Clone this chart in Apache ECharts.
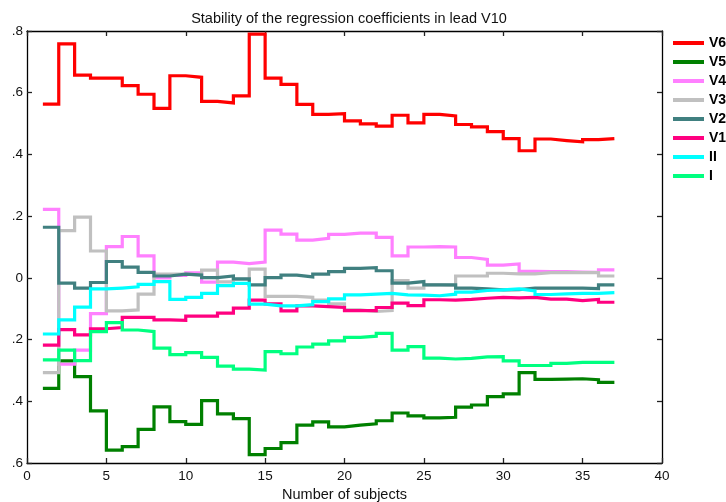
<!DOCTYPE html>
<html>
<head>
<meta charset="utf-8">
<script src="https://cdn.jsdelivr.net/npm/echarts@6/dist/echarts.min.js"></script>
<style>
  html, body { margin: 0; padding: 0; background: #fff; }
  #chart { width: 726px; height: 502px; }
</style>
</head>
<body>
<div id="chart"></div>
<script>
// Number of subjects at which each coefficient estimate starts (steps 1..36, last step closes at 37)
const subjects = [1,2,3,4,5,6,7,8,9,10,11,12,13,14,15,16,17,18,19,20,21,22,23,24,25,26,27,28,29,30,31,32,33,34,35,36];
const lastSubject = 37;

const seriesNames = ['V6', 'V5', 'V4', 'V3', 'V2', 'V1', 'II', 'I'];

const V6 = [0.563, 0.758, 0.657, 0.647, 0.647, 0.623, 0.595, 0.549, 0.655, 0.650, 0.572, 0.567, 0.590, 0.790, 0.647, 0.627, 0.562, 0.530, 0.532, 0.509, 0.499, 0.492, 0.527, 0.502, 0.530, 0.525, 0.497, 0.489, 0.474, 0.451, 0.412, 0.450, 0.445, 0.441, 0.448, 0.451];
const V5 = [-0.358, -0.269, -0.320, -0.431, -0.558, -0.547, -0.491, -0.418, -0.466, -0.475, -0.398, -0.441, -0.456, -0.573, -0.553, -0.534, -0.477, -0.467, -0.483, -0.477, -0.473, -0.463, -0.438, -0.447, -0.454, -0.452, -0.419, -0.412, -0.385, -0.376, -0.307, -0.329, -0.328, -0.327, -0.330, -0.339];
const V4 = [0.222, -0.280, -0.234, -0.116, 0.101, 0.134, 0.071, 0.000, 0.008, 0.016, -0.014, 0.051, 0.046, 0.051, 0.155, 0.142, 0.122, 0.128, 0.141, 0.145, 0.145, 0.131, 0.071, 0.100, 0.101, 0.100, 0.066, 0.060, 0.041, 0.045, 0.021, 0.020, 0.020, 0.019, 0.018, 0.026];
const V3 = [-0.307, 0.153, 0.197, 0.087, -0.107, -0.104, -0.053, 0.012, 0.012, 0.010, 0.025, -0.013, -0.005, 0.028, -0.060, -0.060, -0.063, -0.072, -0.084, -0.104, -0.109, -0.106, -0.009, -0.033, -0.023, -0.024, 0.006, 0.006, 0.015, 0.013, 0.013, 0.017, 0.017, 0.017, 0.017, 0.006];
const V2 = [0.164, -0.017, -0.033, -0.015, 0.053, 0.035, 0.018, 0.006, 0.012, 0.009, 0.001, 0.006, -0.003, -0.023, 0.001, 0.009, 0.003, 0.012, 0.020, 0.031, 0.033, 0.023, -0.017, -0.012, -0.023, -0.023, -0.033, -0.036, -0.039, -0.038, -0.033, -0.033, -0.033, -0.033, -0.035, -0.023];
const V1 = [-0.218, -0.168, -0.185, -0.165, -0.161, -0.128, -0.128, -0.136, -0.138, -0.124, -0.124, -0.114, -0.098, -0.072, -0.084, -0.107, -0.091, -0.093, -0.096, -0.106, -0.106, -0.096, -0.082, -0.090, -0.071, -0.072, -0.070, -0.066, -0.063, -0.065, -0.063, -0.069, -0.069, -0.074, -0.070, -0.079];
const II = [-0.182, -0.136, -0.095, -0.036, -0.033, -0.029, -0.021, -0.012, -0.070, -0.063, -0.050, -0.025, -0.018, -0.085, -0.091, -0.091, -0.087, -0.077, -0.068, -0.055, -0.053, -0.050, -0.055, -0.056, -0.058, -0.053, -0.046, -0.041, -0.039, -0.036, -0.042, -0.054, -0.052, -0.050, -0.050, -0.048];
const I = [-0.266, -0.234, -0.268, -0.174, -0.145, -0.169, -0.174, -0.228, -0.249, -0.242, -0.258, -0.286, -0.296, -0.299, -0.239, -0.246, -0.224, -0.215, -0.204, -0.193, -0.189, -0.180, -0.234, -0.223, -0.260, -0.263, -0.261, -0.256, -0.255, -0.269, -0.284, -0.284, -0.277, -0.274, -0.274, -0.274];

const seriesValues = [V6, V5, V4, V3, V2, V1, II, I];
const seriesColors = ['#ff0000', '#008000', '#ff80ff', '#c0c0c0', '#408080', '#ff0080', '#00ffff', '#00ff80'];

const xTicks = { min: 0, max: 40, interval: 5 };
const yTicks = { min: -0.6, max: 0.8, interval: 0.2 };

const FONT = 'Liberation Sans, Arial, sans-serif';

// stairs: each value holds from its subject count to the next one
function stairData(values) {
  const pts = subjects.map((s, i) => [s, values[i]]);
  pts.push([lastSubject, values[values.length - 1]]);
  return pts;
}

function yLabel(v) {
  if (Math.abs(v) < 1e-9) return '0';
  return '.' + Math.round(Math.abs(v) * 10);
}

const tickStyle = { show: true, inside: true, length: 5, lineStyle: { color: '#222', width: 1.3 } };
const axisLineStyle = { show: true, onZero: false, lineStyle: { color: '#000', width: 1.3 } };

const chart = echarts.init(document.getElementById('chart'), null, { renderer: 'canvas' });
chart.setOption({
  animation: false,
  backgroundColor: '#fff',
  title: {
    text: 'Stability of the regression coefficients in lead V10',
    left: 344,
    top: 6,
    textAlign: 'center',
    textStyle: { fontFamily: FONT, fontSize: 14.5, fontWeight: 'normal', color: '#111' }
  },
  grid: { left: 27, right: 64, top: 31, bottom: 39, containLabel: false, outerBoundsMode: 'none' },
  legend: {
    orient: 'vertical',
    left: 673,
    top: 36,
    padding: 0,
    itemWidth: 31,
    itemHeight: 4,
    itemGap: 5,
    icon: 'rect',
    data: seriesNames,
    textStyle: { fontFamily: FONT, fontSize: 14, fontWeight: 'bold', color: '#000', lineHeight: 14 }
  },
  xAxis: [
    {
      type: 'value', position: 'bottom',
      min: xTicks.min, max: xTicks.max, interval: xTicks.interval,
      name: 'Number of subjects', nameLocation: 'middle', nameGap: 21,
      nameTextStyle: { fontFamily: FONT, fontSize: 14.5, color: '#111' },
      axisLine: axisLineStyle, axisTick: tickStyle,
      axisLabel: { fontFamily: FONT, fontSize: 13.5, color: '#111', margin: 6 },
      splitLine: { show: false }
    },
    {
      type: 'value', position: 'top',
      min: xTicks.min, max: xTicks.max, interval: xTicks.interval,
      axisLine: axisLineStyle, axisTick: tickStyle,
      axisLabel: { show: false }, splitLine: { show: false }
    }
  ],
  yAxis: [
    {
      type: 'value', position: 'left',
      min: yTicks.min, max: yTicks.max, interval: yTicks.interval,
      axisLine: axisLineStyle, axisTick: tickStyle,
      axisLabel: { fontFamily: FONT, fontSize: 13.5, color: '#111', margin: 4, formatter: yLabel },
      splitLine: { show: false }
    },
    {
      type: 'value', position: 'right',
      min: yTicks.min, max: yTicks.max, interval: yTicks.interval,
      axisLine: axisLineStyle, axisTick: tickStyle,
      axisLabel: { show: false }, splitLine: { show: false }
    }
  ],
  series: seriesNames.map((name, i) => ({
    name: name,
    type: 'line',
    step: 'end',
    xAxisIndex: 0,
    yAxisIndex: 0,
    showSymbol: false,
    symbol: 'none',
    color: seriesColors[i],
    lineStyle: { color: seriesColors[i], width: 3.2, join: 'miter' },
    data: stairData(seriesValues[i])
  }))
});
</script>
</body>
</html>
